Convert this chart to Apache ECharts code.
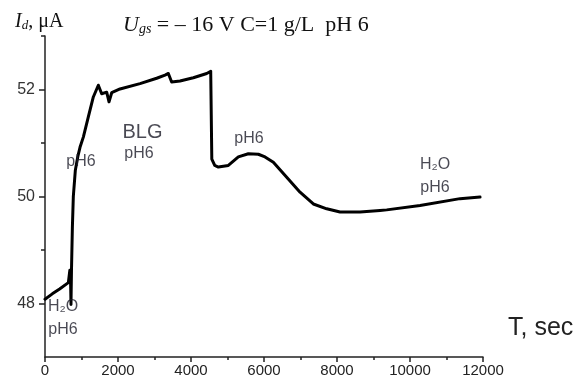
<!DOCTYPE html>
<html>
<head>
<meta charset="utf-8">
<script src="https://cdn.jsdelivr.net/npm/echarts@6/dist/echarts.min.js"></script>
<style>
  html, body { margin: 0; padding: 0; background: #fff; }
  #chart { width: 587px; height: 381px; }
</style>
</head>
<body>
<div id="chart"></div>
<script>
// drain current vs time
const timeSec = [0, 200, 400, 640, 680, 700, 712, 725, 750, 776, 831, 900, 959, 1050, 1187, 1324, 1461, 1553, 1690, 1754, 1827, 2055, 2603, 3060, 3288, 3379, 3470, 3699, 4064, 4430, 4540, 4570, 4650, 4749, 5023, 5297, 5571, 5845, 6028, 6256, 6622, 6987, 7352, 7718, 8083, 8631, 9179, 9362, 10275, 11371, 11919];
const currentUA = [48.08, 48.18, 48.27, 48.39, 48.62, 48.45, 47.98, 48.6, 49.42, 50.0, 50.49, 50.75, 50.92, 51.11, 51.49, 51.86, 52.08, 51.92, 51.95, 51.77, 51.94, 52.01, 52.11, 52.21, 52.27, 52.30, 52.14, 52.16, 52.22, 52.30, 52.34, 50.7, 50.58, 50.55, 50.58, 50.74, 50.80, 50.79, 50.74, 50.64, 50.36, 50.08, 49.86, 49.77, 49.71, 49.71, 49.74, 49.75, 49.83, 49.96, 49.99];

const xTicks = [0, 2000, 4000, 6000, 8000, 10000, 12000];
const yTickLabels = [48, 50, 52];
const yMinorTicks = [49, 51, 53];

// text notes: [time, current, text]
const notes = [
  [493, 47.72, "H\u2082O\npH6"],
  [986, 50.66, "pH6"],
  [2671, 51.20, "BLG"],
  [2576, 50.81, "pH6"],
  [5590, 51.08, "pH6"],
  [10686, 50.39, "H\u2082O\npH6"]
];

const chart = echarts.init(document.getElementById("chart"));
const axisColor = "#222";
const noteColor = "#1c1c28";

const serif = (size, extra) => Object.assign({
  fontFamily: "Liberation Serif", fontWeight: "normal", fontSize: size, color: "#111"
}, extra);

chart.setOption({
  animation: false,
  title: [
    {
      left: 15, top: 11, padding: 0,
      text: "{i|I}{sub|d}{r|, \u03bcA}",
      textStyle: {
        fontWeight: "normal",
        rich: {
          i: serif(20, { fontStyle: "italic" }),
          sub: serif(13, { fontStyle: "italic", padding: [8, 0, 0, 0] }),
          r: serif(20, {})
        }
      }
    },
    {
      left: 123, top: 14, padding: 0,
      text: "{i|U}{sub|gs}{r| = \u2013 16 V C=1 g/L  pH 6}",
      textStyle: {
        fontWeight: "normal",
        rich: {
          i: serif(22, { fontStyle: "italic" }),
          sub: serif(14, { fontStyle: "italic", padding: [8, 0, 0, 0] }),
          r: serif(22, {})
        }
      }
    }
  ],
  grid: { left: 45, right: 104, top: 36, bottom: 24, containLabel: false },
  xAxis: {
    type: "value",
    min: 0, max: 12000, interval: 2000,
    name: "T, sec",
    nameLocation: "end",
    nameGap: 25,
    nameTextStyle: { fontFamily: "Liberation Sans", fontSize: 25, color: "#222", verticalAlign: "bottom", padding: [0, 0, 16, 0] },
    axisLine: { lineStyle: { color: axisColor, width: 1.5 } },
    axisTick: { length: 5, lineStyle: { color: axisColor, width: 1.5 } },
    minorTick: { show: true, splitNumber: 2, length: 3, lineStyle: { color: axisColor, width: 1.5 } },
    axisLabel: { fontFamily: "Liberation Sans", fontSize: 15, color: "#222", margin: 6, customValues: xTicks, formatter: (v) => String(v) },
    splitLine: { show: false }
  },
  yAxis: [
    {
      type: "value",
      min: 47, max: 53,
      axisLine: { show: true, lineStyle: { color: axisColor, width: 1.5 } },
      axisTick: { show: true, length: 6, customValues: yTickLabels, lineStyle: { color: axisColor, width: 1.5 } },
      axisLabel: { fontFamily: "Liberation Sans", fontSize: 16, color: "#333", margin: 10, customValues: yTickLabels },
      splitLine: { show: false }
    },
    {
      type: "value",
      position: "left",
      min: 47, max: 53,
      axisLine: { show: false },
      axisTick: { show: true, length: 4, customValues: yMinorTicks, lineStyle: { color: axisColor, width: 1.5 } },
      axisLabel: { show: false },
      splitLine: { show: false }
    }
  ],
  series: [
    {
      type: "line",
      data: timeSec.map((t, i) => [t, currentUA[i]]),
      showSymbol: false,
      symbol: "none",
      lineStyle: { color: "#000", width: 3, join: "round", cap: "round" }
    },
    {
      type: "scatter",
      symbolSize: 0,
      data: notes.map((n) => ({
        value: [n[0], n[1]],
        name: n[2],
        label: n[2] === "BLG" ? { fontSize: 20 } : {}
      })),
      label: {
        show: true,
        position: "inside",
        formatter: (p) => p.name,
        fontFamily: "Liberation Sans",
        fontSize: 16,
        lineHeight: 23,
        color: noteColor
      },
      emphasis: { disabled: true },
      z: 5
    }
  ]
});
</script>
</body>
</html>
